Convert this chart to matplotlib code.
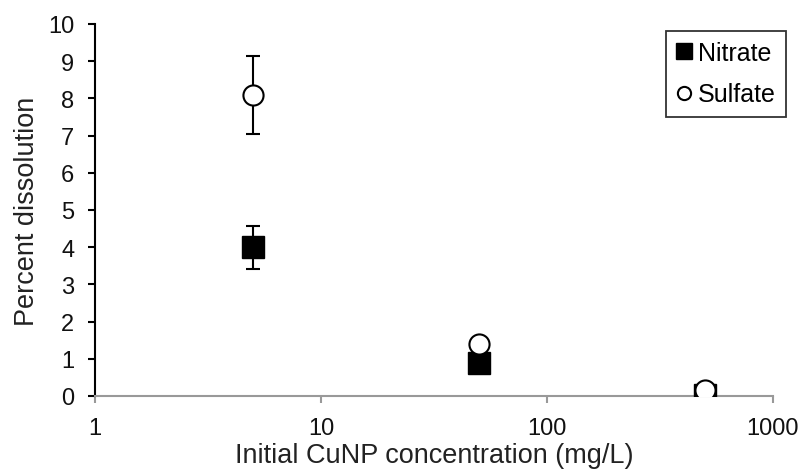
import matplotlib
matplotlib.use("Agg")
import matplotlib.pyplot as plt
from matplotlib.lines import Line2D

plt.rcParams['font.family'] = ['Liberation Sans', 'DejaVu Sans']

conc = [5, 50, 500]
nitrate = [4.0, 0.9, 0.03]
nitrate_err = [0.58, 0.05, 0.02]
sulfate = [8.1, 1.39, 0.15]
sulfate_err = [1.05, 0.12, 0.05]

fig = plt.figure(figsize=(8.03, 4.77), dpi=100)
ax = fig.add_axes([95/803, 1-397/477, 678/803, 372/477])

ax.errorbar(conc, nitrate, yerr=nitrate_err, fmt='s', color='black', ms=16.5,
            mfc='black', mec='black', ecolor='black', elinewidth=1.5, capsize=4.7, capthick=1.5, zorder=3)
ax.errorbar(conc, sulfate, yerr=sulfate_err, fmt='o', color='black', ms=14.5,
            mfc='white', mec='black', mew=1.5, ecolor='black', elinewidth=1.5, capsize=4.7, capthick=1.5, zorder=4)

ax.set_xscale('log')
ax.set_xlim(1, 1000)
ax.set_ylim(0, 10)
ax.set_yticks(range(0, 11))
ax.set_xticks([1, 10, 100, 1000])
ax.set_xticklabels(['1', '10', '100', '1000'])
ax.minorticks_off()
ax.tick_params(axis='y', length=5, width=1.5, color='black', labelsize=17, pad=10, labelcolor='#111111')
ax.tick_params(axis='x', length=5, width=1.5, color='#999999', labelsize=17, pad=10, labelcolor='#111111')

for s in ['top', 'right']:
    ax.spines[s].set_visible(False)
ax.spines['left'].set_color('black')
ax.spines['left'].set_linewidth(1.5)
ax.spines['bottom'].set_color('#999999')
ax.spines['bottom'].set_linewidth(1.5)

ax.set_xlabel('Initial CuNP concentration (mg/L)', fontsize=19.5, color='#222222', labelpad=2)
ax.set_ylabel('Percent dissolution', fontsize=19.5, color='#222222', labelpad=6)

handles = [Line2D([], [], marker='s', ls='none', color='black', ms=11.5),
           Line2D([], [], marker='o', ls='none', mfc='white', mec='black', mew=1.5, ms=9.5)]
leg = fig.legend(handles, ['Nitrate', 'Sulfate'], loc='upper right',
                 bbox_to_anchor=(786/803, 1-32/477), frameon=True, fancybox=False,
                 fontsize=18, handlelength=0.7, handletextpad=0.2, labelspacing=0.7,
                 borderpad=0.4, borderaxespad=0, edgecolor='black')
leg.get_frame().set_linewidth(1.3)

fig.savefig('out.png', dpi=100)
